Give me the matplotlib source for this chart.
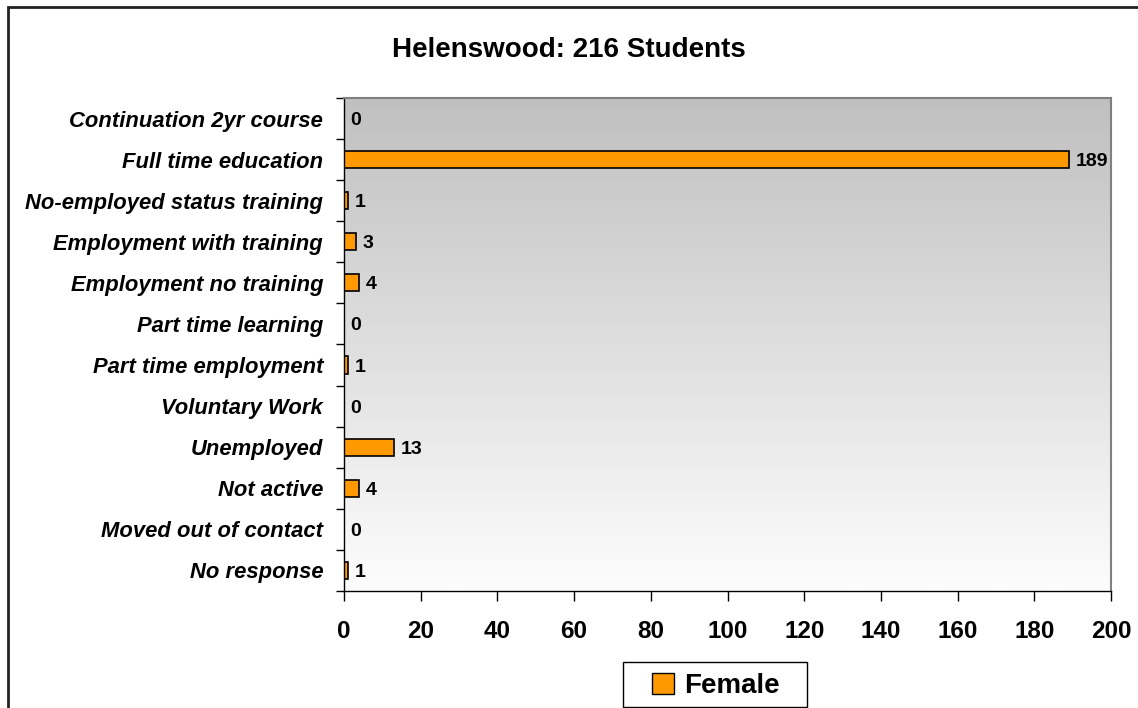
import matplotlib.pyplot as plt
import numpy as np
from matplotlib.patches import Rectangle

plt.rcParams['font.family'] = ['Liberation Sans', 'DejaVu Sans']

categories = ['Continuation 2yr course', 'Full time education', 'No-employed status training',
              'Employment with training', 'Employment no training', 'Part time learning',
              'Part time employment', 'Voluntary Work', 'Unemployed', 'Not active',
              'Moved out of contact', 'No response']
female = [0, 189, 1, 3, 4, 0, 1, 0, 13, 4, 0, 1]
x_ticks = [0, 20, 40, 60, 80, 100, 120, 140, 160, 180, 200]
title = 'Helenswood: 216 Students'

fig = plt.figure(figsize=(11.38, 7.08), dpi=100)
ax = fig.add_axes([0.3023, 0.1653, 0.6740, 0.6963])

# outer chart border (runs off the right and bottom edge)
fig.patches.append(Rectangle((8/1138, -0.05), 1.2, 1 - 7/708 + 0.05, transform=fig.transFigure,
                             fill=False, edgecolor='#222222', linewidth=2))

# gray -> white gradient in plot area
grad = np.linspace(0, 1, 256).reshape(-1, 1)
ax.imshow(grad, cmap=plt.matplotlib.colors.LinearSegmentedColormap.from_list('g', ['#c0c0c0', '#fdfdfd']),
          extent=[0, 1, 0, 1], transform=ax.transAxes, aspect='auto', zorder=0)

y = np.arange(len(categories))
ax.barh(y, female, height=0.42, color='#FF9900', edgecolor='black', linewidth=1.2, zorder=2)
for yi, v in zip(y, female):
    ax.text(v + 1.7, yi, str(v), va='center_baseline', ha='left', fontsize=14, fontweight='bold', zorder=3)

ax.set_xlim(0, 200)
ax.set_ylim(len(categories) - 0.5, -0.5)
ax.set_xticks(x_ticks)
ax.set_xticklabels([str(t) for t in x_ticks], fontsize=17.5, fontweight='bold')
ax.set_yticks(y)
ax.set_yticklabels(categories, fontsize=15.8, fontweight='bold', style='italic')
ax.set_yticks(np.arange(len(categories) + 1) - 0.5, minor=True)
ax.tick_params(axis='y', which='major', length=0, pad=15)
ax.tick_params(axis='y', which='minor', length=5.5, width=1, direction='out')
ax.tick_params(axis='x', length=7, width=1, direction='out', pad=14)

for s in ['top', 'right']:
    ax.spines[s].set_color('#808080')
    ax.spines[s].set_linewidth(1.5)
for s in ['left', 'bottom']:
    ax.spines[s].set_color('black')
    ax.spines[s].set_linewidth(1)

fig.text(0.5, 1 - 50/708, title, ha='center', va='center', fontsize=20, fontweight='bold')

# legend frame drawn separately (wider side padding than matplotlib's frame)
fig.patches.append(Rectangle((623/1138, 1 - 707/708), 184/1138, 45/708, transform=fig.transFigure,
                             facecolor='white', edgecolor='black', linewidth=1))
handle = Rectangle((0, 0), 1, 1, facecolor='#FF9900', edgecolor='black')
leg = fig.legend([handle], ['Female'], loc='center', bbox_to_anchor=(716/1138, 1 - 686/708),
                 prop={'size': 20, 'weight': 'bold'}, frameon=False,
                 handlelength=0.8, handleheight=0.8, handletextpad=0.35, borderpad=0.2,
                 borderaxespad=0)

fig.savefig('out.png', dpi=100)
